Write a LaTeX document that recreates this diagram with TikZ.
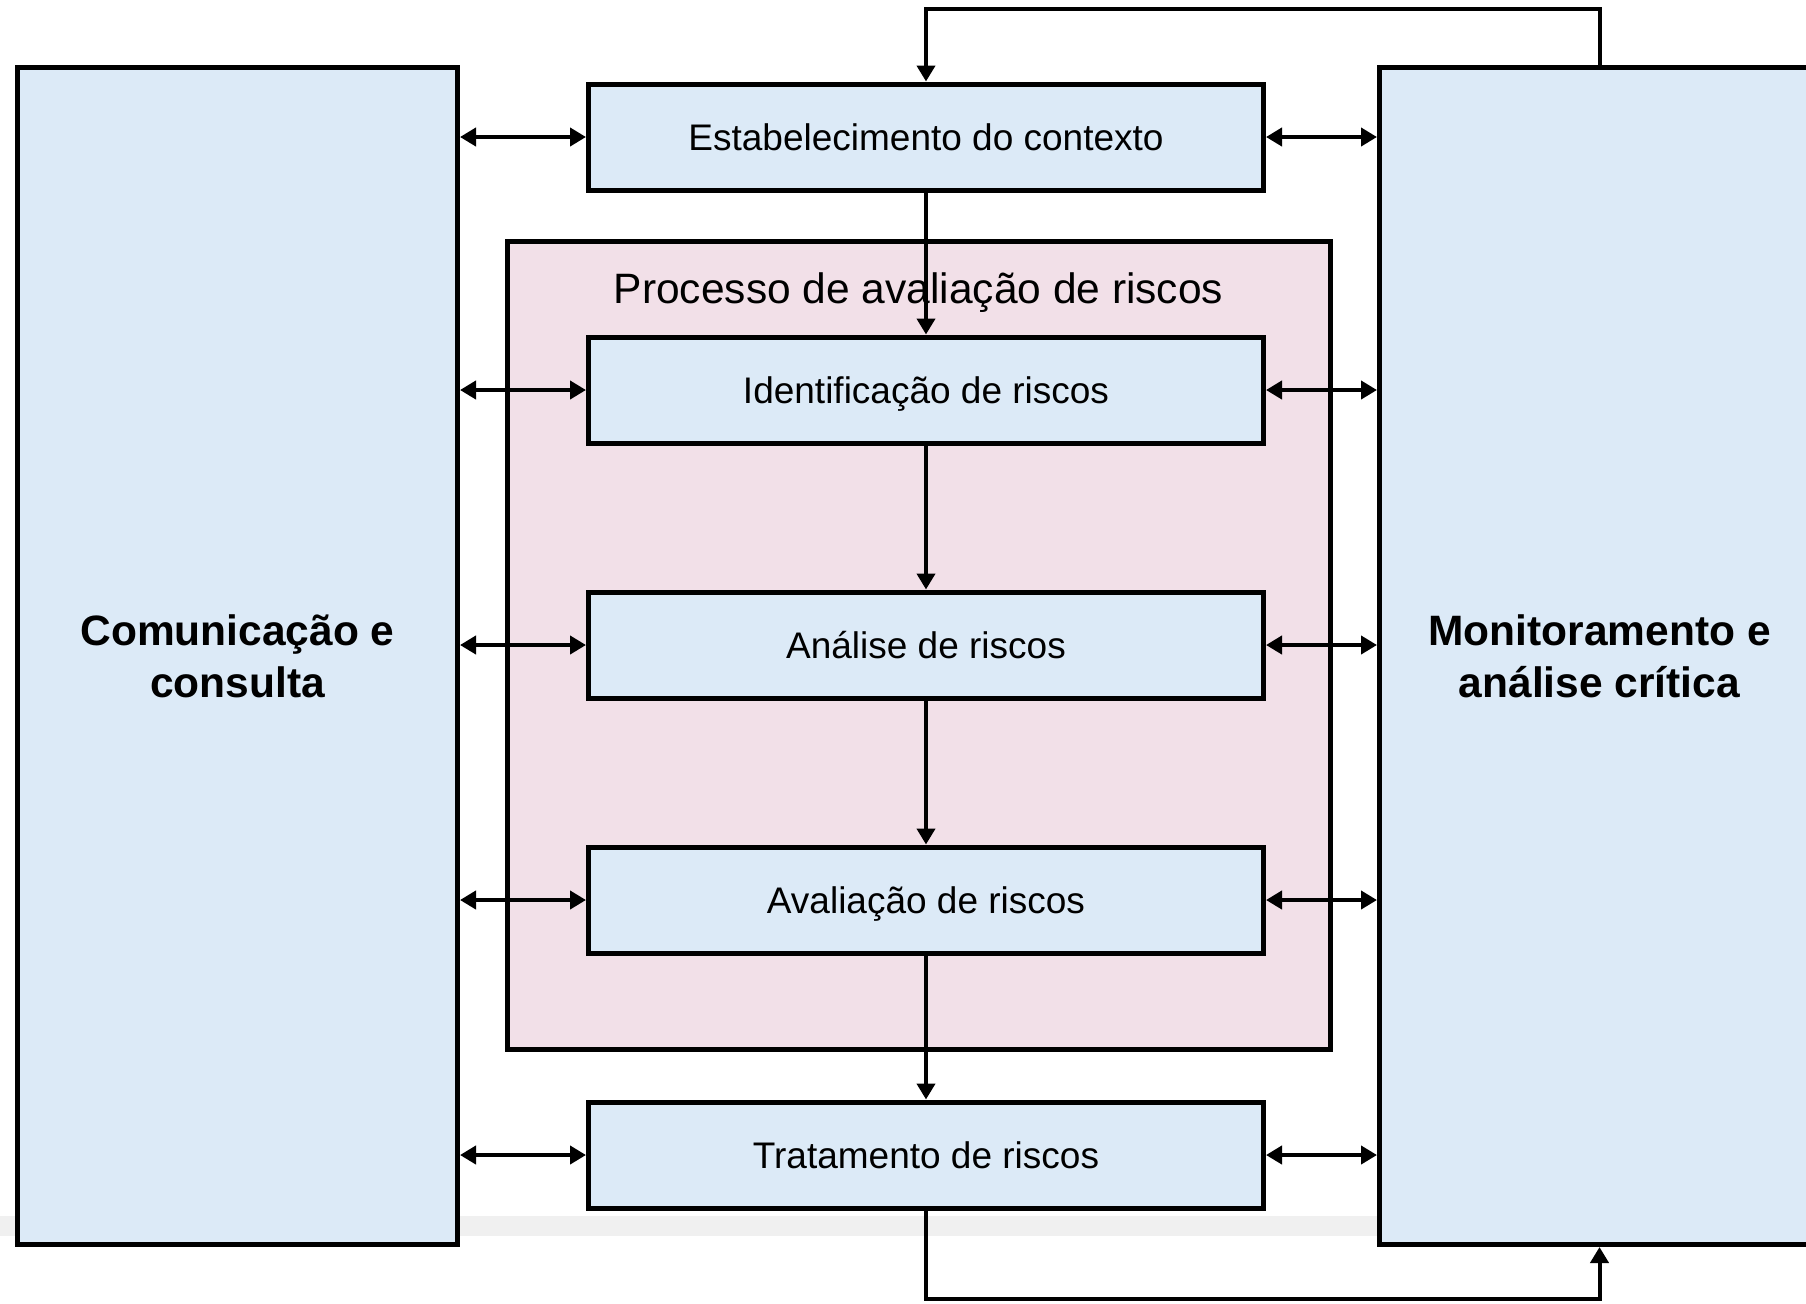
\documentclass[tikz,border=0pt]{standalone}
\usepackage{fontspec}
\setmainfont{Liberation Sans}
\usetikzlibrary{arrows.meta}
\definecolor{boxblue}{RGB}{220,234,247}
\definecolor{procpink}{RGB}{242,224,232}
\definecolor{bandgray}{RGB}{240,240,240}

\begin{document}
\begin{tikzpicture}[x=0.5pt,y=-0.5pt,
    stage/.style={draw,line width=2.5pt,fill=boxblue,minimum width=337.5pt,minimum height=53pt,
      inner sep=0pt,text height=13.5pt,text depth=0pt,font=\fontsize{18.5}{22}\selectfont},
    side/.style={draw,line width=2.5pt,fill=boxblue,minimum width=220pt,minimum height=588.5pt,
      align=center,text depth=-1pt,font=\fontsize{21.25}{26}\selectfont\bfseries},
    link/.style={line width=2pt,-{Triangle[length=8pt,width=9pt]}},
    both/.style={line width=2pt,{Triangle[length=8pt,width=9pt]}-{Triangle[length=8pt,width=9pt]}}
   ]
\useasboundingbox (0,0) rectangle (1806,1303);
\clip (0,0) rectangle (1806,1303);
\fill[bandgray] (0,1216) rectangle (1379,1236);
\node[side] (comm) at (237.5,656) {Comunicação e\\consulta};
\node[side] (mon) at (1599.5,656) {Monitoramento e\\análise crítica};
\node[draw,line width=2.5pt,fill=procpink,minimum width=411.5pt,minimum height=404pt] (proc) at (918.5,645.5) {};
\node[font=\fontsize{21.25}{26}\selectfont] (proctitle) at (918.5,293) {Processo de avaliação de riscos};
\node[stage] (ctx) at (926,137) {Estabelecimento do contexto};
\node[stage] (ident) at (926,390) {Identificação de riscos};
\node[stage] (anal) at (926,645) {Análise de riscos};
\node[stage] (aval) at (926,900) {Avaliação de riscos};
\node[stage] (trat) at (926,1155) {Tratamento de riscos};
\coordinate (toploop) at (926,9);
\coordinate (botloop) at (1599.5,1299);
\draw[link] (ctx.south) -- (ident.north);
\draw[link] (ident.south) -- (anal.north);
\draw[link] (anal.south) -- (aval.north);
\draw[link] (aval.south) -- (trat.north);
\draw[link] (mon.north) |- (toploop) -- (ctx.north);
\draw[link] (trat.south) |- (botloop) -- (mon.south);
\draw[both] (comm.east |- ctx.west) -- (ctx.west);
\draw[both] (comm.east |- ident.west) -- (ident.west);
\draw[both] (comm.east |- anal.west) -- (anal.west);
\draw[both] (comm.east |- aval.west) -- (aval.west);
\draw[both] (comm.east |- trat.west) -- (trat.west);
\draw[both] (ctx.east) -- (mon.west |- ctx.east);
\draw[both] (ident.east) -- (mon.west |- ident.east);
\draw[both] (anal.east) -- (mon.west |- anal.east);
\draw[both] (aval.east) -- (mon.west |- aval.east);
\draw[both] (trat.east) -- (mon.west |- trat.east);
\end{tikzpicture}
\end{document}
